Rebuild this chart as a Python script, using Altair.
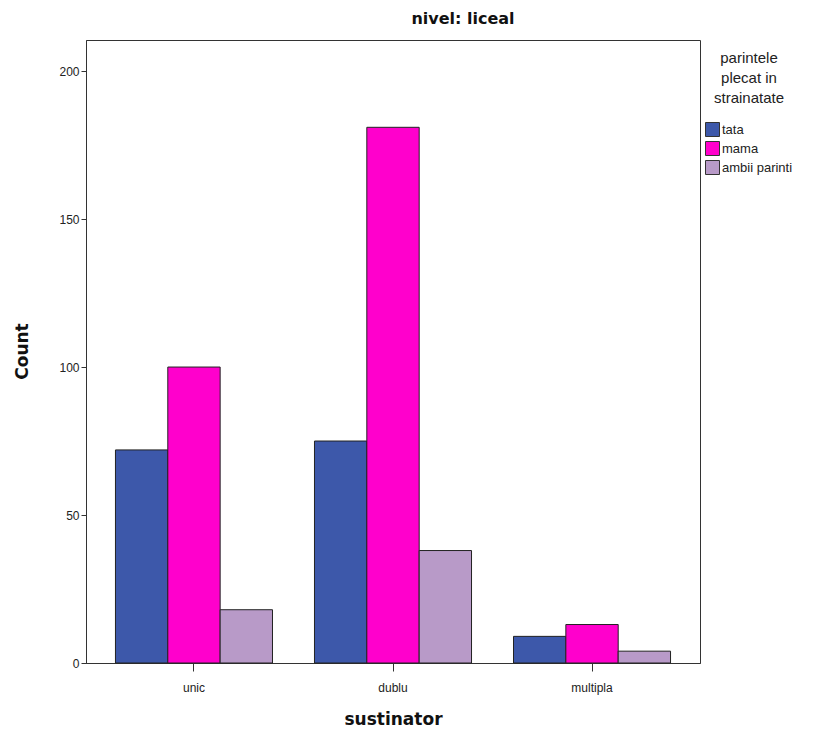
import altair as alt
import pandas as pd

categories = ["unic", "dublu", "multipla"]
series = ["tata", "mama", "ambii parinti"]
tata = [72, 75, 9]
mama = [100, 181, 13]
ambii = [18, 38, 4]
colors = ["#3D58AA", "#FF00CC", "#B89AC8"]
y_ticks = [0, 50, 100, 150, 200]

rows = []
for i, c in enumerate(categories):
    for s, vals in zip(series, [tata, mama, ambii]):
        rows.append({"sustinator": c, "parinte": s, "Count": vals[i]})
df = pd.DataFrame(rows)

FONT = "Liberation Sans"
BOLD_FONT = "DejaVu Sans"

chart = alt.Chart(df).mark_bar(stroke="#222222", strokeWidth=1).encode(
    x=alt.X(
        "sustinator:N",
        sort=categories,
        scale=alt.Scale(paddingInner=0.211, paddingOuter=0.148),
        axis=alt.Axis(
            title="sustinator",
            labelAngle=0,
            labelFont=FONT,
            labelFontSize=12,
            labelColor="#222222",
            labelPadding=11,
            tickSize=8,
            tickColor="#333333",
            domainColor="#333333",
            titleFont=BOLD_FONT,
            titleFontSize=17,
            titleFontWeight="bold",
            titleColor="#111111",
            titleX=307,
            titleY=61,
            titleBaseline="alphabetic",
        ),
    ),
    xOffset=alt.XOffset(
        "parinte:N",
        sort=series,
        scale=alt.Scale(paddingInner=0, paddingOuter=0),
    ),
    y=alt.Y(
        "Count:Q",
        scale=alt.Scale(domain=[0, 210.5], nice=False, zero=True),
        axis=alt.Axis(
            title="Count",
            values=y_ticks,
            grid=False,
            labelFont=FONT,
            labelFontSize=12,
            labelColor="#222222",
            labelPadding=2,
            tickSize=5,
            tickColor="#333333",
            domainColor="#333333",
            titleFont=BOLD_FONT,
            titleFontSize=17,
            titleFontWeight="bold",
            titleColor="#111111",
            titleX=-59,
            titleY=311,
            titleBaseline="alphabetic",
        ),
    ),
    color=alt.Color(
        "parinte:N",
        sort=series,
        scale=alt.Scale(domain=series, range=colors),
        legend=alt.Legend(
            title=["parintele", "plecat in", "strainatate"],
            orient="none",
            legendX=619,
            legendY=11,
            titleFont=FONT,
            titleFontSize=15,
            titleFontWeight="normal",
            titleColor="#222222",
            titleAnchor="middle",
            titleAlign="center",
            titleLineHeight=20,
            titlePadding=16,
            labelFont=FONT,
            labelFontSize=13,
            labelColor="#222222",
            labelOffset=2,
            symbolType="square",
            symbolSize=196,
            symbolStrokeColor="#333333",
            symbolStrokeWidth=1,
            symbolOpacity=1,
            rowPadding=0,
        ),
    ),
).properties(
    width=614,
    height=623,
    background="white",
    title=alt.TitleParams(
        "nivel: liceal",
        font=BOLD_FONT,
        fontSize=16,
        fontWeight="bold",
        color="#111111",
        anchor="middle",
        frame="group",
        dx=70,
        dy=13,
        offset=10,
        baseline="bottom",
    ),
    autosize=alt.AutoSizeParams(type="none"),
    padding={"left": 78, "top": 32, "right": 100, "bottom": 65},
).configure_view(
    stroke="#333333", strokeWidth=1
)

chart.save("out.html", embed_options={"renderer": "svg", "actions": False})
